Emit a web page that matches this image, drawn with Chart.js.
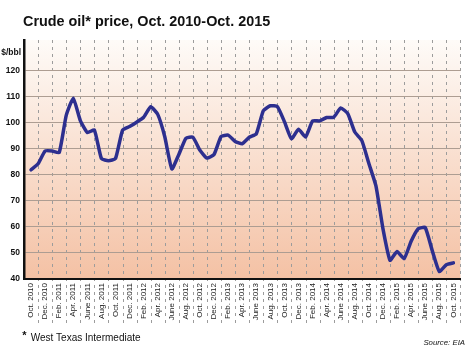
<!DOCTYPE html>
<html><head><meta charset="utf-8">
<script src="https://cdn.jsdelivr.net/npm/chart.js@4"></script>
<style>html,body{margin:0;padding:0;background:#fff}#wrap{width:474px;height:355px}</style>
</head><body><div id="wrap"><canvas id="c" width="474" height="355"></canvas></div>
<script>
// Monthly categories, Oct. 2010 - Oct. 2015
const categories = [
 'Oct. 2010','Nov. 2010','Dec. 2010',
 'Jan. 2011','Feb. 2011','Mar. 2011','Apr. 2011','May 2011','June 2011','July 2011','Aug. 2011','Sept. 2011','Oct. 2011','Nov. 2011','Dec. 2011',
 'Jan. 2012','Feb. 2012','Mar. 2012','Apr. 2012','May 2012','June 2012','July 2012','Aug. 2012','Sept. 2012','Oct. 2012','Nov. 2012','Dec. 2012',
 'Jan. 2013','Feb. 2013','Mar. 2013','Apr. 2013','May 2013','June 2013','July 2013','Aug. 2013','Sept. 2013','Oct. 2013','Nov. 2013','Dec. 2013',
 'Jan. 2014','Feb. 2014','Mar. 2014','Apr. 2014','May 2014','June 2014','July 2014','Aug. 2014','Sept. 2014','Oct. 2014','Nov. 2014','Dec. 2014',
 'Jan. 2015','Feb. 2015','Mar. 2015','Apr. 2015','May 2015','June 2015','July 2015','Aug. 2015','Sept. 2015','Oct. 2015'
];
// WTI price, $/bbl
const prices = [
 82.0, 84.3, 89.2,
 89.2, 88.6, 102.9, 109.5, 100.9, 96.3, 97.3, 86.3, 85.5, 86.3, 97.2, 98.6,
 100.3, 102.2, 106.2, 103.3, 94.7, 82.3, 87.9, 94.1, 94.5, 89.5, 86.5, 87.9,
 94.8, 95.3, 92.9, 92.0, 94.5, 95.8, 104.7, 106.6, 106.3, 100.5, 93.9, 97.6,
 94.6, 100.8, 100.8, 102.1, 102.2, 105.8, 103.6, 96.5, 93.2, 84.4, 75.8, 59.3,
 47.2, 50.6, 47.8, 54.5, 59.3, 59.8, 50.9, 42.9, 45.5, 46.2
];
// Tick labels shown on the x axis (every second month)
const xTickLabels = [
 'Oct. 2010','Dec. 2010','Feb. 2011','Apr. 2011','June 2011','Aug. 2011','Oct. 2011','Dec. 2011',
 'Feb. 2012','Apr. 2012','June 2012','Aug. 2012','Oct. 2012','Dec. 2012','Feb. 2013','Apr. 2013',
 'June 2013','Aug. 2013','Oct. 2013','Dec. 2013','Feb. 2014','Apr. 2014','June 2014','Aug. 2014',
 'Oct. 2014','Dec. 2014','Feb. 2015','Apr. 2015','June 2015','Aug. 2015','Oct. 2015'
];
const yTickValues = [40, 50, 60, 70, 80, 90, 100, 110, 120];
const yUnit = '$/bbl';
const titleText = 'Crude oil* price, Oct. 2010-Oct. 2015';
const footnoteMark = '*';
const footnoteText = 'West Texas Intermediate';
const sourceText = 'Source: EIA';

const SANS = "'Liberation Sans', Arial, Helvetica, sans-serif";
const NARROW = "'Liberation Sans Narrow', 'Liberation Sans', sans-serif";

const decor = {
  id: 'decor',
  beforeDraw(chart) {
    const { ctx, chartArea: a } = chart;
    ctx.save();
    const g = ctx.createLinearGradient(0, a.top, 0, a.bottom);
    g.addColorStop(0, '#fefbf8');
    g.addColorStop(1, '#f4c1a4');
    ctx.fillStyle = g;
    ctx.fillRect(a.left, a.top, a.right - a.left, a.bottom - a.top);
    // dashed vertical guides between the labelled months
    const xs = chart.scales.x;
    ctx.strokeStyle = '#9c9c9c';
    ctx.lineWidth = 1;
    ctx.setLineDash([3, 4]);
    for (let i = 1; i <= categories.length; i += 2) {
      const px = Math.round(xs.getPixelForValue(i)) + 0.5;
      ctx.beginPath();
      ctx.moveTo(px, a.top);
      ctx.lineTo(px, 326);
      ctx.stroke();
    }
    ctx.restore();
  },
  afterDraw(chart) {
    const { ctx } = chart;
    ctx.save();
    ctx.fillStyle = '#111';
    ctx.textBaseline = 'alphabetic';
    ctx.textAlign = 'left';
    ctx.font = 'bold 14.4px ' + SANS;
    ctx.fillText(titleText, 23, 26);
    ctx.textAlign = 'right';
    ctx.font = 'bold 8.5px ' + SANS;
    ctx.fillText(yUnit, 21, 54.5);
    ctx.textAlign = 'left';
    ctx.font = 'bold 11px ' + SANS;
    ctx.fillText(footnoteMark, 22.3, 338.5);
    ctx.font = '10px ' + SANS;
    ctx.fillText(footnoteText, 30.7, 341);
    ctx.textAlign = 'right';
    ctx.font = 'italic 7.8px ' + SANS;
    ctx.fillText(sourceText, 465, 345);
    ctx.restore();
  }
};

new Chart(document.getElementById('c'), {
  type: 'line',
  data: {
    labels: categories,
    datasets: [{
      data: prices.map((v, i) => ({ x: i, y: v })),
      borderColor: '#2d2f8f',
      borderWidth: 3.5,
      pointRadius: 0,
      tension: 0.15,
      fill: false,
      borderCapStyle: 'round',
      borderJoinStyle: 'round'
    }]
  },
  options: {
    responsive: false,
    animation: false,
    devicePixelRatio: 1,
    layout: { padding: { top: 40, right: 9, left: 0, bottom: 0 } },
    plugins: { legend: { display: false }, tooltip: { enabled: false }, title: { display: false } },
    scales: {
      x: {
        type: 'linear',
        min: -1,
        max: categories.length,
        afterFit(s) { s.height = 76; },
        grid: { display: false, drawTicks: false },
        border: { display: true, color: '#111', width: 2 },
        ticks: {
          stepSize: 1,
          autoSkip: false,
          maxRotation: 90,
          minRotation: 90,
          padding: 4,
          color: '#222',
          font: { family: NARROW, size: 8 },
          callback(v) {
            return (v >= 0 && v % 2 === 0 && v / 2 < xTickLabels.length) ? xTickLabels[v / 2] : '';
          }
        }
      },
      y: {
        min: yTickValues[0],
        max: 131.9,
        afterFit(s) { s.width = 24; },
        afterBuildTicks(s) { s.ticks = yTickValues.map(v => ({ value: v })); },
        grid: {
          drawTicks: false,
          color: c => (c.tick && c.tick.value > yTickValues[0]) ? '#ad9d92' : 'rgba(0,0,0,0)',
          lineWidth: 1
        },
        border: { display: true, color: '#111', width: 2.5 },
        ticks: {
          padding: 4,
          color: '#111',
          font: { family: SANS, size: 8.5, weight: 'bold' },
          callback: v => String(v)
        }
      }
    }
  },
  plugins: [decor]
});
</script>
</body></html>
